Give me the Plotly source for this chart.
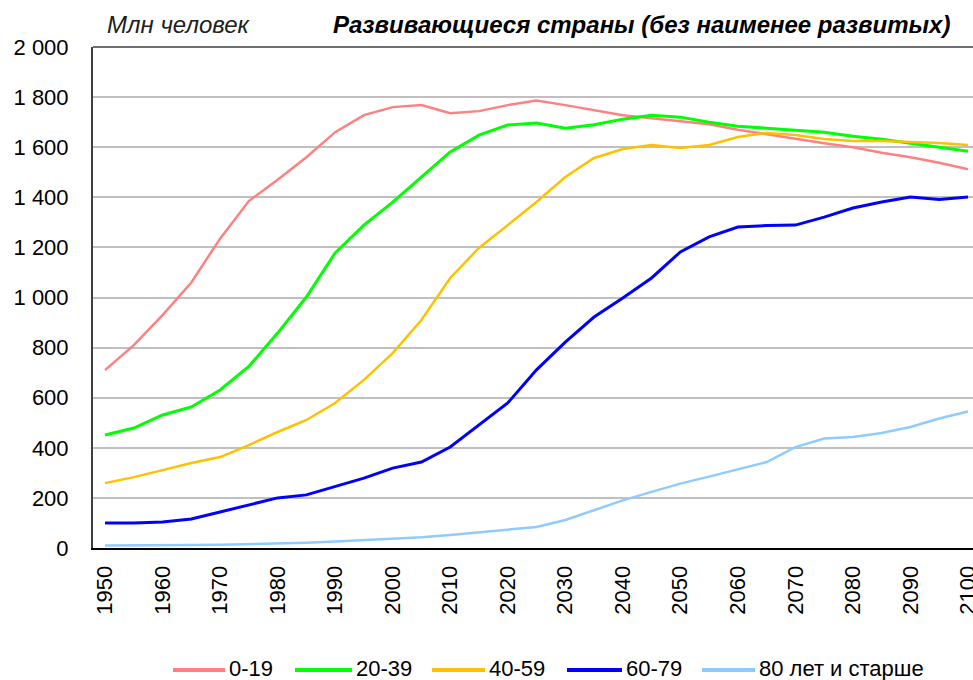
import plotly.graph_objects as go

# years, 5-year steps
years = list(range(1950, 2101, 5))

# population by age group, mln
age_0_19 = [710, 810, 930, 1060, 1235, 1385, 1470, 1560, 1660, 1728, 1760, 1768, 1736, 1744, 1768, 1786,
            1768, 1748, 1728, 1716, 1704, 1692, 1670, 1652, 1632, 1616, 1600, 1578, 1560, 1538, 1512]
age_20_39 = [451, 479, 531, 563, 631, 725, 858, 1002, 1178, 1289, 1381, 1481, 1581, 1648, 1689, 1697,
             1676, 1690, 1712, 1728, 1720, 1700, 1684, 1676, 1668, 1660, 1644, 1632, 1616, 1600, 1584]
age_40_59 = [259, 283, 311, 339, 363, 411, 463, 511, 579, 671, 778, 910, 1078, 1198, 1289, 1381,
             1481, 1557, 1593, 1609, 1597, 1609, 1641, 1657, 1649, 1633, 1625, 1625, 1621, 1617, 1609]
age_60_79 = [100, 100, 104, 116, 144, 172, 200, 212, 244, 279, 319, 343, 403, 491, 579, 711,
             822, 922, 998, 1078, 1182, 1242, 1281, 1287, 1289, 1321, 1357, 1381, 1401, 1391, 1401]
age_80 = [10, 10, 11, 12, 13, 15, 18, 21, 26, 31, 36, 43, 52, 63, 75, 84,
          112, 150, 190, 224, 257, 285, 315, 343, 403, 437, 443, 459, 483, 517, 545]

series_names = ["0-19", "20-39", "40-59", "60-79", "80 лет и старше"]
series_colors = ["#FF8080", "#00FF00", "#FFC000", "#0000FF", "#8FCBFF"]
series_widths = [2.5, 3, 2.5, 3, 2.5]

y_ticks = list(range(0, 2001, 200))
y_labels = ["0", "200", "400", "600", "800", "1 000", "1 200", "1 400", "1 600", "1 800", "2 000"]
x_ticks = list(range(1950, 2101, 10))

font_family = "Liberation Sans, Arial, sans-serif"

# plot area in pixels
L, T, W, H = 93, 47, 880, 501


def px_x(p):
    return (p - L) / W


def px_y(p):
    return (T + H - p) / H


fig = go.Figure()
all_values = [age_0_19, age_20_39, age_40_59, age_60_79, age_80]
for name, values, color, w in zip(series_names, all_values, series_colors, series_widths):
    fig.add_trace(go.Scatter(x=years, y=values, name=name, mode="lines",
                             line=dict(color=color, width=w)))

# hand-made legend below the plot (line sample + text), like the original
legend_line_px = [(173, 225), (295, 352), (432, 485), (567, 622), (702, 755)]
legend_y = px_y(670)
shapes = [dict(type="line", xref="paper", yref="paper", x0=0, x1=1, y0=1, y1=1,
               line=dict(color="#707070", width=2))]
annotations = [
    dict(text="<i>Млн человек</i>", xref="paper", yref="paper",
         x=px_x(105), xanchor="left", y=px_y(25), yanchor="middle",
         showarrow=False, font=dict(size=24, color="#202020")),
    dict(text="<b><i>Развивающиеся страны (без наименее развитых)</i></b>", xref="paper", yref="paper",
         x=px_x(952), xanchor="right", y=px_y(25), yanchor="middle",
         showarrow=False, font=dict(size=24, color="black")),
]
for name, color, (a, b) in zip(series_names, series_colors, legend_line_px):
    shapes.append(dict(type="line", xref="paper", yref="paper", x0=px_x(a), x1=px_x(b),
                       y0=legend_y, y1=legend_y, line=dict(color=color, width=4)))
    annotations.append(dict(text=name, xref="paper", yref="paper", x=px_x(b + 2), xanchor="left",
                            y=px_y(668), yanchor="middle", showarrow=False,
                            font=dict(size=22, color="black")))

fig.update_layout(
    width=973,
    height=680,
    margin=dict(l=L, r=973 - L - W, t=T, b=680 - T - H, autoexpand=False),
    paper_bgcolor="white",
    plot_bgcolor="white",
    font=dict(family=font_family, size=22, color="black"),
    showlegend=False,
    xaxis=dict(range=[1947.91, 2100.87], tickvals=x_ticks, tickangle=-90, showgrid=False,
               showline=True, linecolor="black", linewidth=2, ticks="", zeroline=False,
               automargin=False, ticklabeloverflow="allow", ticklabelstandoff=7,
               tickfont=dict(size=22)),
    yaxis=dict(range=[0, 2000], tickvals=y_ticks, ticktext=y_labels, showgrid=True,
               gridcolor="#C0C0C0", gridwidth=1.5, showline=True, linecolor="#404040",
               linewidth=2, ticks="", zeroline=False, automargin=False, ticklabelstandoff=18,
               tickfont=dict(size=22)),
    shapes=shapes,
    annotations=annotations,
)

# drop the browser's default body margin so the figure sits at the page corner
fig.write_html("out.html", config={"displayModeBar": False},
               post_script="document.body.style.margin='0';")
